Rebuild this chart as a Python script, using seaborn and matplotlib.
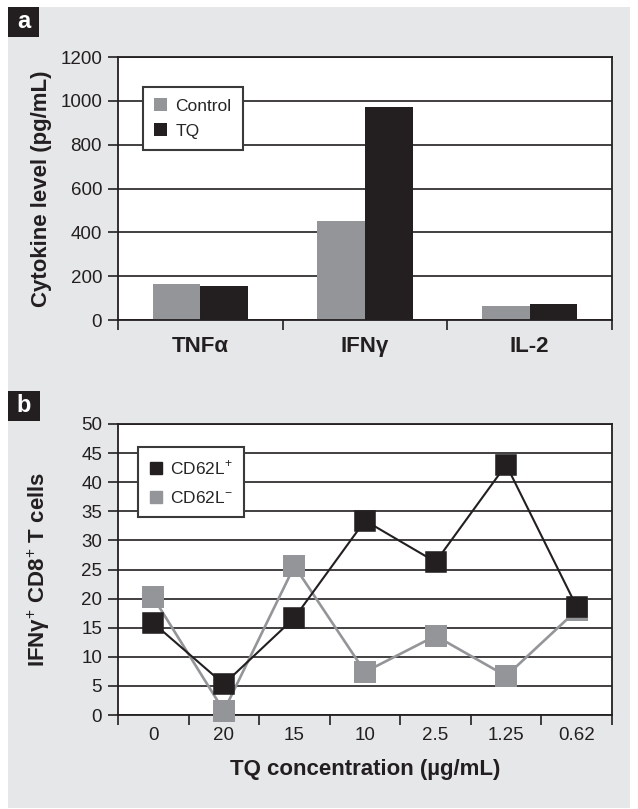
import matplotlib
matplotlib.use("Agg")
import matplotlib.pyplot as plt
from matplotlib.patches import Rectangle, Patch
from matplotlib.lines import Line2D
import seaborn as sns
import pandas as pd

# ---------------- data ----------------
cytokines = ["TNFα", "IFNγ", "IL-2"]
control_levels = [165, 453, 64]
tq_levels = [153, 970, 73]

concentrations = ["0", "20", "15", "10", "2.5", "1.25", "0.62"]
cd62l_pos = [15.8, 5.3, 16.7, 33.4, 26.3, 43.0, 18.6]
cd62l_neg = [20.2, 0.7, 25.6, 7.4, 13.6, 6.7, 18.0]

a_yticks = [0, 200, 400, 600, 800, 1000, 1200]
b_yticks = [0, 5, 10, 15, 20, 25, 30, 35, 40, 45, 50]

# ---------------- style ----------------
sns.set_theme(style="white")
plt.rcParams["font.family"] = ["Liberation Sans", "DejaVu Sans"]
plt.rcParams["mathtext.fontset"] = "custom"
plt.rcParams["mathtext.rm"] = "Liberation Sans"
plt.rcParams["mathtext.bf"] = "Liberation Sans:bold"

GRAY = "#939598"
BLACK = "#231f20"
BG = "#e6e7e8"
LINE = "#231f20"

W, H = 638, 809
fig = plt.figure(figsize=(W / 100, H / 100), dpi=100)
fig.patch.set_facecolor("white")

# gray panel background
fig.patches.append(Rectangle((8 / W, 1 - 808 / H), (630 - 8) / W, (808 - 7) / H,
                             transform=fig.transFigure, facecolor=BG, edgecolor="none", zorder=-10))


def panel_tag(letter, x0, y0, x1, y1):
    fig.patches.append(Rectangle((x0 / W, 1 - y1 / H), (x1 - x0) / W, (y1 - y0) / H,
                                 transform=fig.transFigure, facecolor=BLACK, edgecolor="none", zorder=5))
    fig.text((x0 + x1) / 2 / W, 1 - (y0 + y1) / 2 / H, letter, color="white", fontsize=17,
             fontweight="bold", ha="center", va="center", zorder=6)


panel_tag("a", 8, 7, 39, 37)
panel_tag("b", 8, 391, 40, 421)


def fig_axes(x0, y0, x1, y1):
    return fig.add_axes([x0 / W, 1 - y1 / H, (x1 - x0) / W, (y1 - y0) / H])


def style_axes(ax, ncat, xpad):
    ax.set_facecolor("white")
    for s in ax.spines.values():
        s.set_visible(True)
        s.set_color(LINE)
        s.set_linewidth(1.3)
    ax.set_xlim(-0.5, ncat - 0.5)
    ax.set_xticks(range(ncat))
    ax.set_xticks([i - 0.5 for i in range(ncat + 1)], minor=True)
    ax.tick_params(axis="x", which="major", length=0, pad=xpad)
    ax.tick_params(axis="x", which="minor", length=7, width=1.2, color=LINE, direction="out", bottom=True)
    ax.tick_params(axis="y", which="major", length=7, width=1.2, color=LINE, direction="out",
                   left=True, pad=4.5, labelsize=13.5, labelcolor="#231f20")
    ax.yaxis.grid(True, color=LINE, linewidth=1.2)
    ax.xaxis.grid(False)
    ax.set_axisbelow(True)


# ---------------- panel a ----------------
axa = fig_axes(118, 57, 612, 320)
dfa = pd.DataFrame({
    "cytokine": cytokines * 2,
    "level": control_levels + tq_levels,
    "group": ["Control"] * 3 + ["TQ"] * 3,
})
sns.barplot(data=dfa, x="cytokine", y="level", hue="group", hue_order=["Control", "TQ"],
            order=cytokines, palette=[GRAY, BLACK], saturation=1, width=0.58,
            edgecolor="none", linewidth=0, legend=False, ax=axa)
style_axes(axa, len(cytokines), 11.5)
axa.set_ylim(0, 1200)
axa.set_yticks(a_yticks)
axa.set_xticklabels(cytokines, fontsize=16, fontweight="bold", color="#231f20")
axa.set_xlabel("")
axa.set_ylabel("Cytokine level (pg/mL)", fontsize=16, fontweight="bold", color="#231f20")
axa.yaxis.set_label_coords(-0.134, 0.5)
leg_a = axa.legend(handles=[Patch(facecolor=GRAY, edgecolor="none", label="Control"),
                            Patch(facecolor=BLACK, edgecolor="none", label="TQ")],
                   loc="upper left", bbox_to_anchor=(0.051, 0.886), borderaxespad=0,
                   fontsize=12.5, handlelength=0.75, handleheight=0.75, handletextpad=0.45,
                   borderpad=0.65, labelspacing=0.55, fancybox=False, framealpha=1,
                   edgecolor="#3a3a3a", facecolor="white")
leg_a.get_frame().set_linewidth(1.5)

# ---------------- panel b ----------------
axb = fig_axes(118, 424, 612, 715)
dfb_neg = pd.DataFrame({"conc": concentrations, "pct": cd62l_neg})
dfb_pos = pd.DataFrame({"conc": concentrations, "pct": cd62l_pos})
sns.pointplot(data=dfb_neg, x="conc", y="pct", order=concentrations, color=GRAY, markers="s",
              markersize=14, linewidth=1.9, errorbar=None, ax=axb, clip_on=False, zorder=3)
sns.pointplot(data=dfb_pos, x="conc", y="pct", order=concentrations, color=BLACK, markers="s",
              markersize=14, linewidth=1.5, errorbar=None, ax=axb, clip_on=False, zorder=4)
style_axes(axb, len(concentrations), 9)
axb.set_ylim(0, 50)
axb.set_yticks(b_yticks)
axb.set_xticklabels(concentrations, fontsize=13.5, color="#231f20")
axb.set_xlabel("TQ concentration (µg/mL)", fontsize=16, fontweight="bold", color="#231f20")
axb.xaxis.set_label_coords(0.5, -0.15)
axb.set_ylabel("IFNγ$^{+}$ CD8$^{+}$ T cells", fontsize=16, fontweight="bold", color="#231f20")
axb.yaxis.set_label_coords(-0.134, 0.5)
leg_b = axb.legend(handles=[Line2D([], [], color=BLACK, marker="s", linestyle="none", markersize=9,
                                   label="CD62L$^{+}$"),
                            Line2D([], [], color=GRAY, marker="s", linestyle="none", markersize=9,
                                   label="CD62L$^{-}$")],
                   loc="upper left", bbox_to_anchor=(0.04, 0.921), borderaxespad=0,
                   fontsize=12.5, handlelength=0.75, handletextpad=0.45,
                   borderpad=0.65, labelspacing=0.75, fancybox=False, framealpha=1,
                   edgecolor="#3a3a3a", facecolor="white")
leg_b.get_frame().set_linewidth(1.5)

fig.savefig("out.png", dpi=100, facecolor=fig.get_facecolor())
